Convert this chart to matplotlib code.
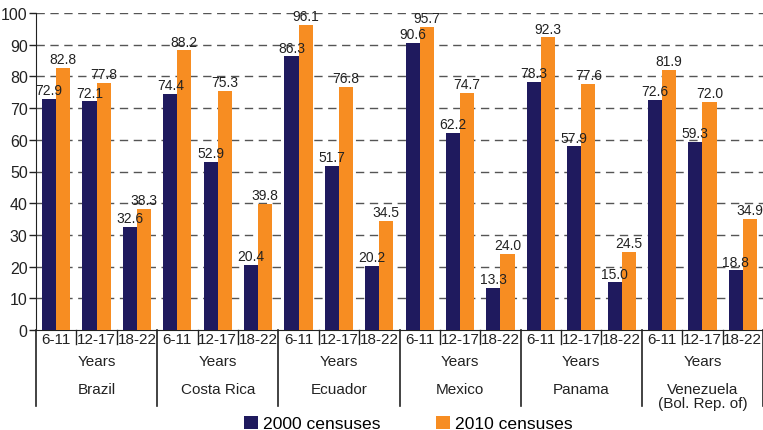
import numpy as np
import matplotlib
matplotlib.use("Agg")
from matplotlib import pyplot as plt
from matplotlib.transforms import blended_transform_factory

plt.rcParams['font.family'] = ['Liberation Sans', 'DejaVu Sans']

countries = ["Brazil", "Costa Rica", "Ecuador", "Mexico", "Panama",
             "Venezuela\n(Bol. Rep. of)"]
ages = ["6-11", "12-17", "18-22"]
census_2000 = [72.9, 72.1, 32.6,
               74.4, 52.9, 20.4,
               86.3, 51.7, 20.2,
               90.6, 62.2, 13.3,
               78.3, 57.9, 15.0,
               72.6, 59.3, 18.8]
census_2010 = [82.8, 77.8, 38.3,
               88.2, 75.3, 39.8,
               96.1, 76.8, 34.5,
               95.7, 74.7, 24.0,
               92.3, 77.6, 24.5,
               81.9, 72.0, 34.9]

NAVY = "#1f1a5e"
ORANGE = "#f78d22"

fig = plt.figure(figsize=(7.63, 4.31), dpi=100)
ax = fig.add_axes([36/763, 100/431, 1 - 36/763, 317/431])

n = len(census_2000)
x = np.arange(n) + 0.5
w = 0.35
b1 = ax.bar(x - w/2, census_2000, w, color=NAVY, zorder=3, label="2000 censuses")
b2 = ax.bar(x + w/2, census_2010, w, color=ORANGE, zorder=3, label="2010 censuses")
for bars, vals in ((b1, census_2000), (b2, census_2010)):
    for r, v in zip(bars, vals):
        ax.text(r.get_x() + r.get_width()/2, v + 0.6, "%.1f" % v,
                ha="center", va="bottom", fontsize=10, color="#222222", zorder=4)

ax.set_xlim(0, n)
ax.set_ylim(0, 100)
ax.set_yticks(range(0, 101, 10))
ax.tick_params(axis="y", labelsize=11.5, length=5, width=1, pad=1,
               colors="#222222")
ax.set_xticks([])
for yv in range(10, 101, 10):
    ax.axhline(yv, color="#555555", lw=1, ls=(0, (6, 4)), zorder=1)

for s in ("top", "right"):
    ax.spines[s].set_visible(False)
ax.spines["left"].set_color("#222222")
ax.spines["bottom"].set_color("#222222")

tr = blended_transform_factory(ax.transData, ax.transAxes)
for i in range(n):
    ax.text(x[i], -0.028, ages[i % 3], transform=tr, ha="center", va="center",
            fontsize=11, color="#222222")
    if i % 3 != 0:
        ax.plot([i, i], [0, -0.044], transform=tr, color="#222222", lw=1,
                clip_on=False)
for c in range(len(countries) + 1):
    ax.plot([3*c, 3*c], [0, -0.24], transform=tr, color="#222222", lw=1.2,
            clip_on=False)
for c, name in enumerate(countries):
    ax.text(3*c + 1.5, -0.098, "Years", transform=tr, ha="center", va="center",
            fontsize=11, color="#222222")
    ax.text(3*c + 1.5, -0.164, name, transform=tr, ha="center", va="top",
            fontsize=11, color="#222222", linespacing=1.0)

fig.legend(handles=[b1, b2], loc="lower center", bbox_to_anchor=(0.5354, -0.04),
           ncol=2, frameon=False, fontsize=12.6, handlelength=0.8,
           handleheight=0.8, columnspacing=3.17, handletextpad=0.3)

fig.savefig("out.png", dpi=100)
